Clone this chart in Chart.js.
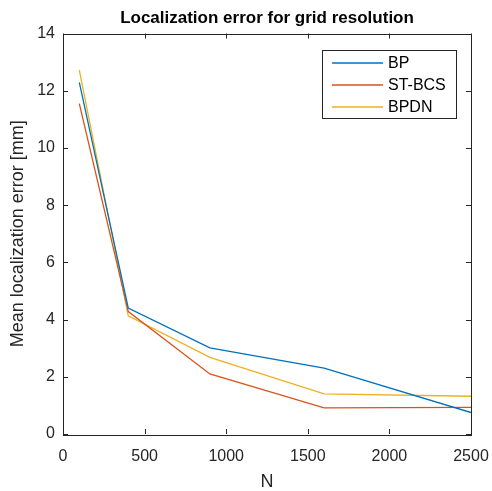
<!DOCTYPE html>
<html>
<head>
<meta charset="utf-8">
<script src="https://cdn.jsdelivr.net/npm/chart.js@4"></script>
<style>
html,body{margin:0;padding:0;background:#fff;}
#wrap{width:492px;height:491px;}
</style>
</head>
<body>
<div id="wrap"><canvas id="c" width="492" height="491"></canvas></div>
<script>
const N = [100, 400, 900, 1600, 2500];
const bp = [12.29, 4.40, 3.01, 2.30, 0.75];
const stbcs = [11.55, 4.28, 2.10, 0.91, 0.93];
const bpdn = [12.72, 4.13, 2.68, 1.40, 1.32];
const seriesNames = ['BP', 'ST-BCS', 'BPDN'];
const xTicks = [0, 500, 1000, 1500, 2000, 2500];
const yTicks = [0, 2, 4, 6, 8, 10, 12, 14];
const titleText = 'Localization error for grid resolution';

const axisColor = '#262626';
const fontFam = '"Liberation Sans", Arial, Helvetica, sans-serif';

function pts(vals){ return N.map((n,i)=>({x:n,y:vals[i]})); }

const boxPlugin = {
  id:'box',
  afterDraw(chart){
    const ctx = chart.ctx, a = chart.chartArea;
    const xs = chart.scales.x, ys = chart.scales.y;
    ctx.save();
    ctx.fillStyle = '#000';
    ctx.font = 'bold 17px ' + fontFam;
    ctx.textAlign = 'center';
    ctx.textBaseline = 'middle';
    ctx.fillText(titleText, (a.left + a.right)/2, 18);
    ctx.textAlign = 'left';

    ctx.strokeStyle = axisColor;
    ctx.lineWidth = 1;
    ctx.strokeRect(Math.round(a.left)+0.5, Math.round(a.top)+0.5, Math.round(a.right-a.left), Math.round(a.bottom-a.top));
    const tl = 5;
    ctx.beginPath();
    xTicks.forEach(v=>{
      const px = Math.round(xs.getPixelForValue(v))+0.5;
      ctx.moveTo(px, a.bottom); ctx.lineTo(px, a.bottom-tl);
      ctx.moveTo(px, a.top); ctx.lineTo(px, a.top+tl);
    });
    yTicks.forEach(v=>{
      const py = Math.round(ys.getPixelForValue(v))+0.5;
      ctx.moveTo(a.left, py); ctx.lineTo(a.left+tl, py);
      ctx.moveTo(a.right, py); ctx.lineTo(a.right-tl, py);
    });
    ctx.stroke();
    const lx = 322.5, ly = 50.5, lw = 134, lh = 68;
    ctx.fillStyle = '#fff';
    ctx.fillRect(lx, ly, lw, lh);
    ctx.strokeRect(lx, ly, lw, lh);
    ctx.font = '16px ' + fontFam;
    ctx.textBaseline = 'middle';
    chart.data.datasets.forEach((ds,i)=>{
      const yy = 63 + i*22;
      ctx.strokeStyle = ds.borderColor;
      ctx.lineWidth = 1.3;
      ctx.beginPath(); ctx.moveTo(332, yy); ctx.lineTo(383, yy); ctx.stroke();
      ctx.fillStyle = '#000';
      ctx.fillText(ds.label, 388, yy+1);
    });
    ctx.restore();
  }
};

new Chart(document.getElementById('c'), {
  type:'line',
  data:{
    datasets:[
      {label:seriesNames[0], data:pts(bp), borderColor:'#0072BD', backgroundColor:'#0072BD'},
      {label:seriesNames[1], data:pts(stbcs), borderColor:'#D95319', backgroundColor:'#D95319'},
      {label:seriesNames[2], data:pts(bpdn), borderColor:'#EDB120', backgroundColor:'#EDB120'}
    ]
  },
  options:{
    responsive:false,
    animation:false,
    devicePixelRatio:1,
    elements:{line:{borderWidth:1.3, tension:0}, point:{radius:0}},
    layout:{padding:{left:0,right:21,top:33.5,bottom:0}},
    plugins:{
      legend:{display:false},
      tooltip:{enabled:false},
      title:{display:false}
    },
    scales:{
      x:{type:'linear', min:0, max:2500,
        afterBuildTicks(s){ s.ticks = xTicks.map(v=>({value:v})); },
        afterFit(s){ s.height = 57; s.paddingLeft = 0; s.paddingRight = 0; },
        grid:{display:false, drawTicks:false},
        border:{display:false},
        ticks:{color:axisColor, padding:13, font:{family:fontFam, size:16}, maxRotation:0,
          callback:(v)=>String(v)},
        title:{display:true, text:'N', color:axisColor, font:{family:fontFam, size:18}, padding:{top:0,bottom:-2}}
      },
      y:{type:'linear', min:0, max:14,
        afterBuildTicks(s){ s.ticks = yTicks.map(v=>({value:v})); },
        afterFit(s){ s.width = 63; s.paddingTop = 0; s.paddingBottom = 0; },
        grid:{display:false, drawTicks:false},
        border:{display:false},
        ticks:{color:axisColor, padding:8, font:{family:fontFam, size:16}, callback:(v)=>String(v)},
        title:{display:true, text:'Mean localization error [mm]', color:axisColor, font:{family:fontFam, size:18}, padding:{top:7,bottom:0}}
      }
    }
  },
  plugins:[boxPlugin]
});
</script>
</body>
</html>
